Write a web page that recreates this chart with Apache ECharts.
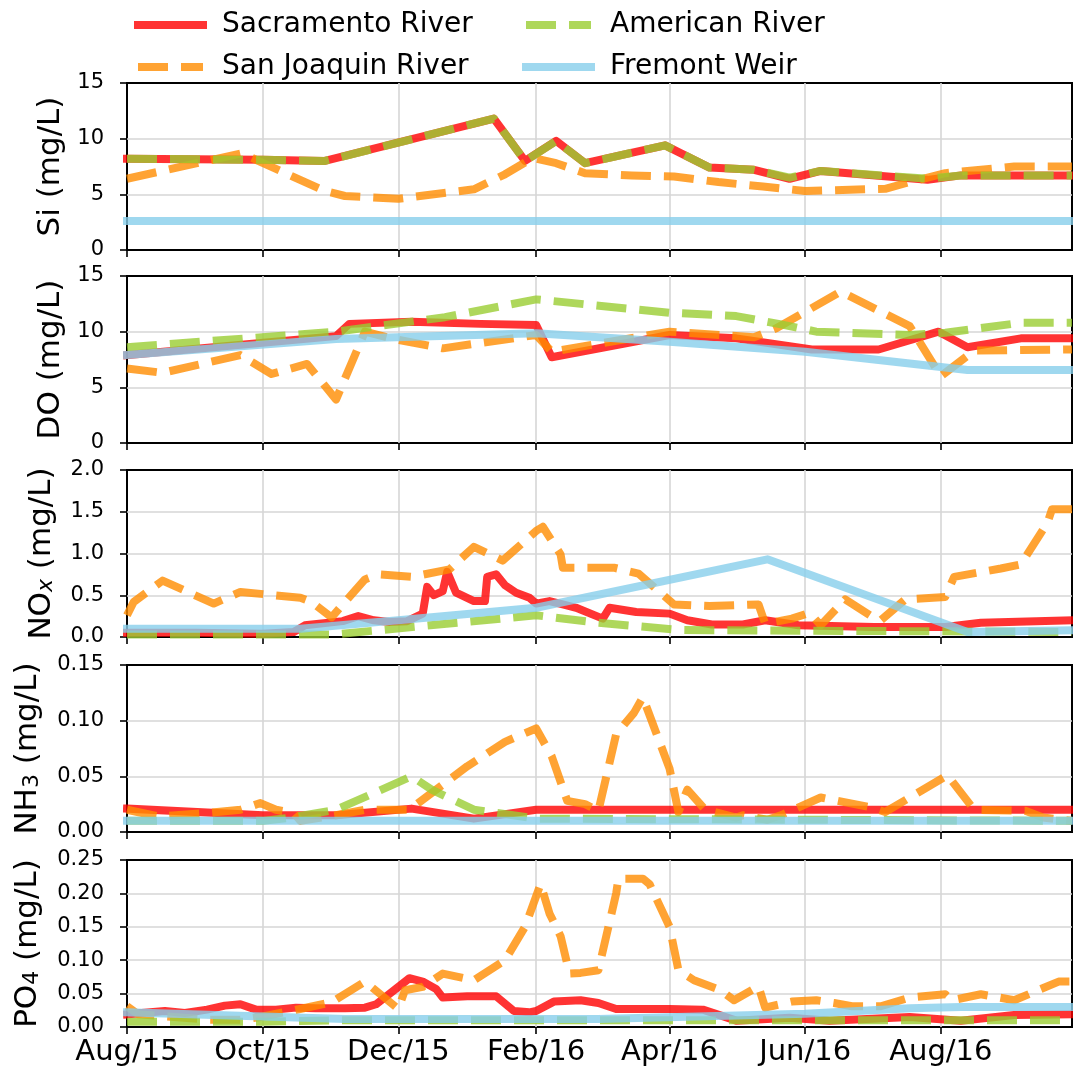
<!DOCTYPE html>
<html>
<head>
<meta charset="utf-8">
<script src="https://cdn.jsdelivr.net/npm/echarts@6/dist/echarts.min.js"></script>
<style>html,body{margin:0;padding:0;background:#fff}#c{width:1073px;height:1069px}</style>
</head>
<body>
<div id="c"></div>
<script>
// ---------------- DATA ----------------
const seriesNames = ['Sacramento River', 'San Joaquin River', 'American River', 'Fremont Weir'];
const xRange = ['2015-08-01', '2016-09-29'];
const xTickDates = ['2015-08-01', '2015-10-01', '2015-12-01', '2016-02-01', '2016-04-01', '2016-06-01', '2016-08-01'];
const xTickLabels = ['Aug/15', 'Oct/15', 'Dec/15', 'Feb/16', 'Apr/16', 'Jun/16', 'Aug/16'];

// Si (mg/L)
const siSacramento = [['2015-08-01',8.2],['2015-10-01',8.1],['2015-10-29',8.0],['2016-01-13',11.8],['2016-01-27',8.0],['2016-02-10',9.8],['2016-02-23',7.8],['2016-03-30',9.4],['2016-04-19',7.4],['2016-05-09',7.2],['2016-05-25',6.4],['2016-06-08',7.1],['2016-07-26',6.3],['2016-08-10',6.7],['2016-09-29',6.7]];
const siSanJoaquin = [['2015-08-01',6.4],['2015-09-22',8.7],['2015-09-29',8.0],['2015-10-29',5.3],['2015-11-07',4.85],['2015-12-01',4.6],['2016-01-04',5.45],['2016-01-18',6.8],['2016-01-29',8.1],['2016-02-01',8.2],['2016-02-10',7.8],['2016-02-23',6.9],['2016-03-15',6.7],['2016-04-03',6.6],['2016-04-23',6.1],['2016-05-13',5.7],['2016-06-01',5.3],['2016-07-07',5.5],['2016-07-18',6.1],['2016-08-03',6.9],['2016-09-03',7.5],['2016-09-29',7.5]];
const siAmerican = [['2015-08-01',8.2],['2015-10-01',8.1],['2015-10-29',8.0],['2016-01-13',11.8],['2016-01-27',8.0],['2016-02-10',9.8],['2016-02-23',7.8],['2016-03-30',9.4],['2016-04-19',7.4],['2016-05-09',7.2],['2016-05-25',6.5],['2016-06-08',7.1],['2016-07-26',6.4],['2016-08-10',6.7],['2016-09-29',6.7]];
const siFremont = [['2015-08-01',2.6],['2016-09-29',2.6]];

// DO (mg/L)
const doSacramento = [['2015-08-01',7.9],['2015-11-03',9.6],['2015-11-09',10.7],['2015-12-07',10.9],['2016-01-07',10.7],['2016-02-01',10.6],['2016-02-08',7.7],['2016-04-01',9.7],['2016-05-01',9.4],['2016-06-04',8.4],['2016-07-04',8.4],['2016-07-31',10.0],['2016-08-13',8.6],['2016-09-06',9.4],['2016-09-29',9.4]];
const doSanJoaquin = [['2015-08-01',6.7],['2015-08-17',6.3],['2015-09-21',7.9],['2015-10-05',6.2],['2015-10-21',7.1],['2015-11-03',3.9],['2015-11-16',10.0],['2015-11-30',9.3],['2015-12-21',8.5],['2016-02-01',9.7],['2016-02-08',8.2],['2016-04-01',10.0],['2016-05-09',9.5],['2016-05-19',10.3],['2016-06-17',13.6],['2016-07-18',10.5],['2016-08-01',6.0],['2016-08-16',8.3],['2016-09-29',8.4]];
const doAmerican = [['2015-08-01',8.6],['2015-11-03',10.0],['2015-12-22',11.3],['2016-02-01',12.9],['2016-04-01',11.7],['2016-05-01',11.4],['2016-05-20',10.7],['2016-06-06',10.0],['2016-07-18',9.7],['2016-08-03',9.9],['2016-09-06',10.8],['2016-09-29',10.8]];
const doFremont = [['2015-08-01',7.9],['2015-11-03',9.35],['2016-02-01',9.85],['2016-04-01',9.1],['2016-06-01',8.2],['2016-08-13',6.55],['2016-09-29',6.55]];

// NOx (mg/L)
const noxSacramento = [['2015-08-01',0.05],['2015-09-01',0.05],['2015-10-01',0.04],['2015-10-15',0.06],['2015-10-20',0.14],['2015-11-06',0.19],['2015-11-13',0.25],['2015-11-20',0.2],['2015-11-27',0.18],['2015-12-05',0.19],['2015-12-12',0.28],['2015-12-14',0.6],['2015-12-17',0.5],['2015-12-21',0.55],['2015-12-23',0.78],['2015-12-27',0.53],['2016-01-04',0.43],['2016-01-09',0.43],['2016-01-10',0.72],['2016-01-14',0.75],['2016-01-18',0.62],['2016-01-23',0.53],['2016-01-29',0.47],['2016-02-01',0.40],['2016-02-07',0.43],['2016-02-13',0.39],['2016-02-19',0.35],['2016-03-02',0.22],['2016-03-05',0.35],['2016-03-17',0.3],['2016-04-01',0.28],['2016-04-09',0.2],['2016-04-20',0.15],['2016-05-04',0.15],['2016-05-14',0.2],['2016-05-29',0.14],['2016-07-02',0.12],['2016-08-03',0.12],['2016-08-19',0.17],['2016-09-29',0.2]];
const noxSanJoaquin = [['2015-08-01',0.26],['2015-08-04',0.42],['2015-08-17',0.675],['2015-09-09',0.40],['2015-09-21',0.54],['2015-10-18',0.47],['2015-10-23',0.42],['2015-11-01',0.235],['2015-11-16',0.69],['2015-11-22',0.75],['2015-12-07',0.72],['2015-12-24',0.81],['2016-01-04',1.08],['2016-01-17',0.915],['2016-02-01',1.27],['2016-02-04',1.32],['2016-02-12',0.99],['2016-02-13',0.83],['2016-03-07',0.83],['2016-03-18',0.76],['2016-04-03',0.39],['2016-04-19',0.37],['2016-05-11',0.39],['2016-05-14',0.16],['2016-05-26',0.22],['2016-06-03',0.29],['2016-06-08',0.14],['2016-06-19',0.45],['2016-07-02',0.23],['2016-07-05',0.2],['2016-07-16',0.45],['2016-08-03',0.48],['2016-08-07',0.72],['2016-08-28',0.82],['2016-09-06',0.87],['2016-09-18',1.37],['2016-09-20',1.53],['2016-09-29',1.53]];
const noxAmerican = [['2015-08-01',0.03],['2015-11-02',0.03],['2016-02-01',0.26],['2016-02-29',0.17],['2016-04-05',0.086],['2016-04-25',0.08],['2016-09-29',0.06]];
const noxFremont = [['2015-08-01',0.1],['2015-10-18',0.1],['2015-12-01',0.2],['2016-02-01',0.35],['2016-05-15',0.93],['2016-08-13',0.06],['2016-09-29',0.08]];

// NH3 (mg/L)
const nh3Sacramento = [['2015-08-01',0.021],['2015-10-01',0.015],['2015-11-03',0.015],['2015-12-07',0.021],['2016-01-04',0.012],['2016-02-01',0.02],['2016-09-29',0.02]];
const nh3SanJoaquin = [['2015-08-01',0.02],['2015-08-15',0.014],['2015-09-06',0.017],['2015-09-21',0.02],['2015-09-30',0.026],['2015-10-07',0.02],['2015-10-15',0.017],['2015-10-18',0.01],['2015-11-03',0.015],['2015-11-16',0.02],['2015-12-06',0.02],['2016-01-01',0.059],['2016-01-18',0.081],['2016-02-01',0.093],['2016-02-08',0.068],['2016-02-15',0.028],['2016-02-23',0.025],['2016-02-29',0.019],['2016-03-08',0.088],['2016-03-16',0.107],['2016-03-20',0.121],['2016-04-01',0.057],['2016-04-05',0.018],['2016-04-09',0.038],['2016-04-17',0.02],['2016-05-01',0.013],['2016-05-04',0.015],['2016-05-15',0.011],['2016-05-21',0.015],['2016-06-08',0.031],['2016-07-01',0.022],['2016-07-07',0.018],['2016-08-04',0.051],['2016-08-16',0.02],['2016-09-08',0.019],['2016-09-16',0.013],['2016-09-29',0.01]];
const nh3American = [['2015-08-01',0.01],['2015-10-01',0.01],['2015-10-14',0.013],['2015-11-03',0.02],['2015-12-07',0.05],['2015-12-16',0.038],['2016-01-04',0.02],['2016-02-01',0.012],['2016-09-29',0.01]];
const nh3Fremont = [['2015-08-01',0.01],['2016-09-29',0.01]];

// PO4 (mg/L)
const po4Sacramento = [['2015-08-01',0.019],['2015-08-18',0.024],['2015-08-27',0.021],['2015-09-06',0.026],['2015-09-14',0.032],['2015-09-21',0.034],['2015-09-28',0.026],['2015-10-07',0.026],['2015-10-16',0.029],['2015-10-25',0.028],['2015-11-07',0.028],['2015-11-16',0.029],['2015-11-21',0.034],['2015-12-06',0.073],['2015-12-12',0.068],['2015-12-18',0.057],['2015-12-21',0.044],['2016-01-01',0.046],['2016-01-14',0.046],['2016-01-22',0.024],['2016-01-29',0.022],['2016-02-01',0.024],['2016-02-09',0.038],['2016-02-21',0.04],['2016-02-29',0.036],['2016-03-08',0.027],['2016-04-01',0.027],['2016-04-16',0.026],['2016-05-01',0.0095],['2016-05-25',0.014],['2016-06-12',0.0095],['2016-07-18',0.015],['2016-08-10',0.0095],['2016-09-03',0.018],['2016-09-29',0.019]];
const po4SanJoaquin = [['2015-08-01',0.031],['2015-08-06',0.019],['2015-09-07',0.011],['2015-09-21',0.011],['2015-09-30',0.015],['2015-10-15',0.025],['2015-11-01',0.037],['2015-11-16',0.068],['2015-12-01',0.027],['2015-12-04',0.055],['2015-12-12',0.06],['2015-12-21',0.08],['2016-01-04',0.07],['2016-01-18',0.10],['2016-01-27',0.15],['2016-02-03',0.214],['2016-02-07',0.17],['2016-02-12',0.136],['2016-02-16',0.08],['2016-02-21',0.081],['2016-02-29',0.085],['2016-03-08',0.2],['2016-03-09',0.222],['2016-03-20',0.222],['2016-03-23',0.214],['2016-04-01',0.15],['2016-04-05',0.085],['2016-04-12',0.07],['2016-04-24',0.055],['2016-04-30',0.04],['2016-05-11',0.061],['2016-05-14',0.029],['2016-05-26',0.038],['2016-06-06',0.04],['2016-06-14',0.036],['2016-06-22',0.031],['2016-07-05',0.031],['2016-07-18',0.044],['2016-08-03',0.049],['2016-08-06',0.04],['2016-08-19',0.049],['2016-09-03',0.04],['2016-09-23',0.068],['2016-09-29',0.068]];
const po4American = [['2015-08-01',0.008],['2015-10-01',0.008],['2015-11-03',0.01],['2016-09-29',0.01]];
const po4Fremont = [['2015-08-01',0.022],['2015-11-07',0.012],['2016-02-29',0.012],['2016-06-01',0.02],['2016-07-18',0.028],['2016-08-10',0.03],['2016-09-29',0.03]];

// Axis settings per panel
const yNames = ['Si (mg/L)', 'DO (mg/L)', '{b|NO}{sx|x}{b| (mg/L)}', '{b|NH}{s|3}{b| (mg/L)}', '{b|PO}{s|4}{b| (mg/L)}'];
const yMaxes = [15, 15, 2.0, 0.15, 0.25];
const yIntervals = [5, 5, 0.5, 0.05, 0.05];
const yDecimals = [0, 0, 1, 2, 2];
const panelData = [
  [siSacramento, siSanJoaquin, siAmerican, siFremont],
  [doSacramento, doSanJoaquin, doAmerican, doFremont],
  [noxSacramento, noxSanJoaquin, noxAmerican, noxFremont],
  [nh3Sacramento, nh3SanJoaquin, nh3American, nh3Fremont],
  [po4Sacramento, po4SanJoaquin, po4American, po4Fremont]
];

// ---------------- CHART ----------------
const FONT = 'DejaVu Sans';
const ts = s => { const p = s.split('-').map(Number); return new Date(p[0], p[1] - 1, p[2]).getTime(); };
const tickTs = xTickDates.map(ts);
const gridTops = [83, 276, 470, 665, 860];
const nameGaps = [61, 61, 70, 84, 84];
const lineStyles = [
  { color: 'rgb(255,0,0)', type: 'solid', cap: 'square' },
  { color: 'rgb(255,140,0)', type: [30, 13], cap: 'butt' },
  { color: 'rgb(154,205,50)', type: [30, 13], cap: 'butt' },
  { color: 'rgb(135,206,235)', type: 'solid', cap: 'square' }
];
const gridLineStyle = { color: '#d6d6d6', width: 1.6, type: 'solid' };

const grids = [], xAxes = [], yAxes = [], series = [];
for (let i = 0; i < 5; i++) {
  grids.push({ left: 127, right: 1, top: gridTops[i], height: 167, show: true, borderColor: '#000', borderWidth: 2,
    backgroundColor: 'transparent', containLabel: false, outerBoundsMode: 'none', z: 0 });
  xAxes.push({
    type: 'value', gridIndex: i, min: ts(xRange[0]), max: ts(xRange[1]), scale: true,
    axisLine: { show: true, onZero: false, lineStyle: { color: '#000', width: 2 } },
    axisTick: { show: true, customValues: tickTs, length: 7, lineStyle: { color: '#000', width: 1.6 } },
    axisLabel: { show: i === 4, customValues: tickTs, fontSize: 29, color: '#000', fontFamily: FONT, margin: 11,
      formatter: v => { const k = tickTs.indexOf(+v); return k >= 0 ? xTickLabels[k] : ''; } },
    splitLine: { show: false }
  });
  yAxes.push({
    type: 'value', gridIndex: i, min: 0, max: yMaxes[i], interval: yIntervals[i],
    name: yNames[i], nameLocation: 'middle', nameRotate: 90, nameGap: nameGaps[i], nameMoveOverlap: false,
    nameTextStyle: { fontSize: 31, color: '#000', fontFamily: FONT,
      rich: {
        b: { fontSize: 31, lineHeight: 31, color: '#000', fontFamily: FONT },
        s: { fontSize: 22, lineHeight: 12, verticalAlign: 'bottom', color: '#000', fontFamily: FONT },
        sx: { fontSize: 22, lineHeight: 12, verticalAlign: 'bottom', fontStyle: 'italic', color: '#000', fontFamily: FONT }
      } },
    axisLine: { show: true, lineStyle: { color: '#000', width: 2 } },
    axisTick: { show: true, length: 7, lineStyle: { color: '#000', width: 1.6 } },
    axisLabel: { fontSize: 21, color: '#000', fontFamily: FONT, margin: 23, formatter: v => Number(v).toFixed(yDecimals[i]) },
    splitLine: { show: false }
  });

  // interior grid lines drawn through the axes' scales (markLine on a helper series)
  const nSteps = Math.round(yMaxes[i] / yIntervals[i]);
  const hLines = [];
  for (let k = 1; k < nSteps; k++) hLines.push({ yAxis: +(k * yIntervals[i]).toFixed(6) });
  const vLines = tickTs.slice(1).map(t => ({ xAxis: t }));
  series.push({
    type: 'line', name: '_grid' + i, xAxisIndex: i, yAxisIndex: i, data: [], silent: true, animation: false, z: 1,
    markLine: { silent: true, animation: false, symbol: ['none', 'none'], label: { show: false }, z: 1,
      lineStyle: gridLineStyle, emphasis: { disabled: true }, data: hLines.concat(vLines) }
  });

  panelData[i].forEach((d, j) => {
    series.push({
      type: 'line', name: seriesNames[j], xAxisIndex: i, yAxisIndex: i,
      data: d.map(p => [ts(p[0]), p[1]]),
      showSymbol: false, symbol: 'none', animation: false, silent: true, clip: true,
      color: lineStyles[j].color,
      lineStyle: { width: 8, opacity: 0.8, color: lineStyles[j].color, type: lineStyles[j].type, cap: lineStyles[j].cap, join: 'round' },
      z: 2 + j
    });
  });
}

const legendCommon = {
  orient: 'vertical', top: 10, padding: 0, itemWidth: 65, itemHeight: 14, itemGap: 12,
  textStyle: { fontSize: 28, lineHeight: 30, color: '#000', fontFamily: FONT, padding: [0, 0, 0, 14] },
  lineStyle: { width: 8 },
  itemStyle: { color: 'rgba(0,0,0,0)', borderWidth: 0, opacity: 0 },
  selectedMode: false
};

const chart = echarts.init(document.getElementById('c'), null, { renderer: 'canvas' });
chart.setOption({
  animation: false,
  backgroundColor: '#fff',
  textStyle: { fontFamily: FONT },
  legend: [
    Object.assign({}, legendCommon, { left: 134, data: [seriesNames[0], seriesNames[1]] }),
    Object.assign({}, legendCommon, { left: 522, data: [seriesNames[2], seriesNames[3]] })
  ],
  grid: grids, xAxis: xAxes, yAxis: yAxes, series: series
});
</script>
</body>
</html>
